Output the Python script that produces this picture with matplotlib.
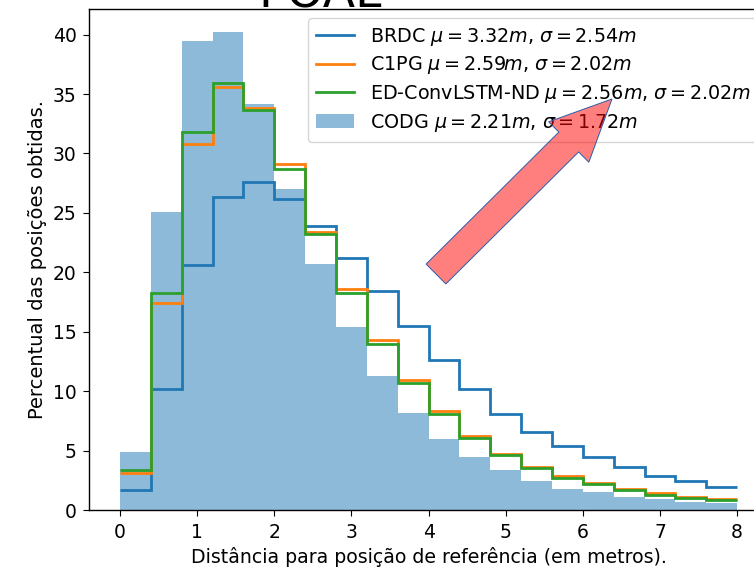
import numpy as np
import matplotlib
matplotlib.use("Agg")
import matplotlib.pyplot as plt
import matplotlib.patches as mpatches

# bin edges (metres) and percentage of positions per bin
bin_edges = np.arange(0, 8.01, 0.4)

brdc = [1.7, 10.2, 20.6, 26.3, 27.6, 26.2, 23.9, 21.2, 18.4, 15.5,
        12.6, 10.2, 8.1, 6.6, 5.4, 4.5, 3.6, 2.9, 2.4, 1.9]
c1pg = [3.1, 17.4, 30.8, 35.6, 33.8, 29.1, 23.4, 18.6, 14.3, 10.9,
        8.3, 6.2, 4.7, 3.6, 2.9, 2.3, 1.8, 1.4, 1.1, 0.9]
ed_convlstm = [3.35, 18.3, 31.8, 35.9, 33.7, 28.7, 23.2, 18.3, 14.0, 10.7,
               8.1, 6.1, 4.6, 3.5, 2.7, 2.2, 1.7, 1.3, 1.0, 0.85]
codg = [4.9, 25.1, 39.5, 40.2, 34.2, 27.0, 20.7, 15.4, 11.3, 8.2,
        6.0, 4.5, 3.4, 2.4, 1.8, 1.5, 1.1, 0.9, 0.7, 0.6]

labels = [r'BRDC $\mu = 3.32m$, $\sigma = 2.54m$',
          r'C1PG $\mu = 2.59m$, $\sigma = 2.02m$',
          r'ED-ConvLSTM-ND $\mu = 2.56m$, $\sigma = 2.02m$',
          r'CODG $\mu = 2.21m$, $\sigma = 1.72m$']

plt.rcParams['font.size'] = 13.5
plt.rcParams['xtick.major.size'] = 4.5
plt.rcParams['ytick.major.size'] = 4.5
plt.rcParams['xtick.major.pad'] = 4.5
plt.rcParams['ytick.major.pad'] = 4.5
plt.rcParams['axes.linewidth'] = 1.0

fig = plt.figure(figsize=(7.54, 5.67), dpi=100)
# axes run past the right edge, like the cropped screenshot
ax = fig.add_axes([0.1183, 0.1005, 0.9003, 0.8845])

centers = bin_edges[:-1] + 0.2
_, _, bars = ax.hist(centers, bins=bin_edges, weights=codg, color='C0', alpha=0.5)
l1 = ax.stairs(brdc, bin_edges, baseline=None, color='C0', lw=2)
l2 = ax.stairs(c1pg, bin_edges, baseline=None, color='C1', lw=2)
l3 = ax.stairs(ed_convlstm, bin_edges, baseline=None, color='C2', lw=2)

ax.set_xlim(-0.4, 8.4)
ax.set_ylim(0, 42.2)
ax.set_xticks(range(0, 9))
ax.set_yticks(range(0, 41, 5))
ax.set_xlabel('Distância para posição de referência (em metros).', fontsize=13.6)
ax.set_ylabel('Percentual das posições obtidas.', fontsize=14)
ax.legend([l1, l2, l3, bars], labels, loc='upper right', fontsize=13.8,
          labelspacing=0.35)

# title, mostly cut off at the top of the screenshot
fig.text(320.5 / 754, 1 - 7 / 567, 'POAL', ha='center', va='baseline', fontsize=34)

# red arrow drawn over the chart
arrow = mpatches.FancyArrow(4.36, 2.93, 1.76, 1.75, width=0.28, head_width=0.57,
                            head_length=0.61, length_includes_head=True,
                            facecolor=(1, 0, 0, 0.5), edgecolor='#2a5caa', lw=0.7,
                            transform=fig.dpi_scale_trans)
fig.add_artist(arrow)

fig.savefig('out.png', dpi=100)
